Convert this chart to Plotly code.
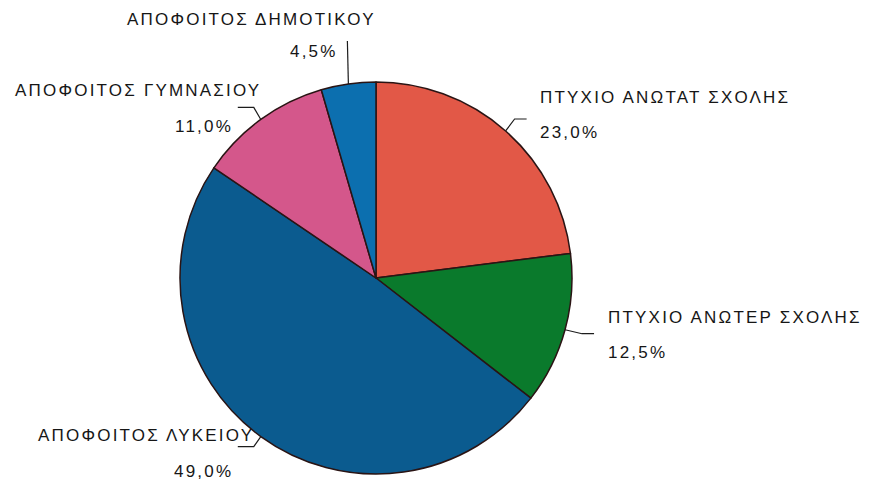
import numpy as np
import plotly.graph_objects as go

# ---- data ----
categories = ["ΠΤΥΧΙΟ ΑΝΩΤΑΤ ΣΧΟΛΗΣ", "ΠΤΥΧΙΟ ΑΝΩΤΕΡ ΣΧΟΛΗΣ", "ΑΠΟΦΟΙΤΟΣ ΛΥΚΕΙΟΥ",
              "ΑΠΟΦΟΙΤΟΣ ΓΥΜΝΑΣΙΟΥ", "ΑΠΟΦΟΙΤΟΣ ΔΗΜΟΤΙΚΟΥ"]
values = [23.0, 12.5, 49.0, 11.0, 4.5]

# ---- style ----
PAGE_W, PAGE_H = 869, 482
OFF = 8                             # default body margin of the html page
W, H = PAGE_W - OFF, PAGE_H - OFF
colors = ["#E25847", "#0A7A2C", "#0B5B8F", "#D4578B", "#0C6FAF"]
CX, CY, R = 376, 278, 196           # pie centre / radius in page pixels
# leader line offsets (elbow, end) relative to slice edge midpoint
elbow = [(9, -12), (17, 4), (-7, 10), (-7, -12), (-1, -43)]
end = [(21, -12), (29, 4), (-23, 10), (-23, -12), (-1, -43)]
# label anchor positions (name line, pct line), and alignment
name_pos = [(538, 97), (606, 317), (36, 435), (13, 90), (251, 19)]
pct_pos = [(538, 132), (606, 352), (203, 471), (204, 126), (340, 51)]
name_anchor = ["left", "left", "left", "left", "center"]
pct_anchor = ["left", "left", "center", "center", "right"]
FONT = dict(family="Liberation Sans, Arial, sans-serif", size=17, color="#161616")
LS = "letter-spacing:2.2px"

fig = go.Figure()
fig.add_trace(go.Pie(
    labels=categories, values=values, sort=False, direction="clockwise",
    rotation=0, textinfo="none", hoverinfo="label+percent",
    marker=dict(colors=colors, line=dict(color="#2a1414", width=1.5)),
    domain=dict(x=[(CX - R - OFF) / W, (CX + R - OFF) / W],
                y=[(PAGE_H - CY - R) / H, (PAGE_H - CY + R) / H]),
    showlegend=False,
))

vals = np.array(values)
cum = np.cumsum(vals)
mid = np.deg2rad((cum - vals / 2) / vals.sum() * 360)
ex = CX + R * np.sin(mid)
ey = CY - R * np.cos(mid)

annotations = []
for i, v in enumerate(values):
    xs = [ex[i], ex[i] + elbow[i][0], ex[i] + end[i][0]]
    ys = [ey[i], ey[i] + elbow[i][1], ey[i] + end[i][1]]
    fig.add_trace(go.Scatter(x=xs, y=ys, mode="lines", line=dict(color="#1c1c1c", width=1.2),
                             hoverinfo="skip", showlegend=False, xaxis="x", yaxis="y"))
    annotations.append(dict(x=name_pos[i][0], y=name_pos[i][1], xref="x", yref="y",
                            text=f'<span style="{LS}">{categories[i]}</span>',
                            showarrow=False, xanchor=name_anchor[i], yanchor="middle", font=FONT))
    pct = f"{v:.1f}".replace(".", ",") + "%"
    annotations.append(dict(x=pct_pos[i][0], y=pct_pos[i][1], xref="x", yref="y",
                            text=f'<span style="{LS}">{pct}</span>',
                            showarrow=False, xanchor=pct_anchor[i], yanchor="middle", font=FONT))

fig.update_layout(
    width=W, height=H, margin=dict(l=0, r=0, t=0, b=0),
    paper_bgcolor="white", plot_bgcolor="rgba(0,0,0,0)",
    xaxis=dict(range=[OFF, PAGE_W], visible=False, domain=[0, 1], fixedrange=True),
    yaxis=dict(range=[PAGE_H, OFF], visible=False, domain=[0, 1], fixedrange=True),
    annotations=annotations,
)
fig.write_html("out.html")
